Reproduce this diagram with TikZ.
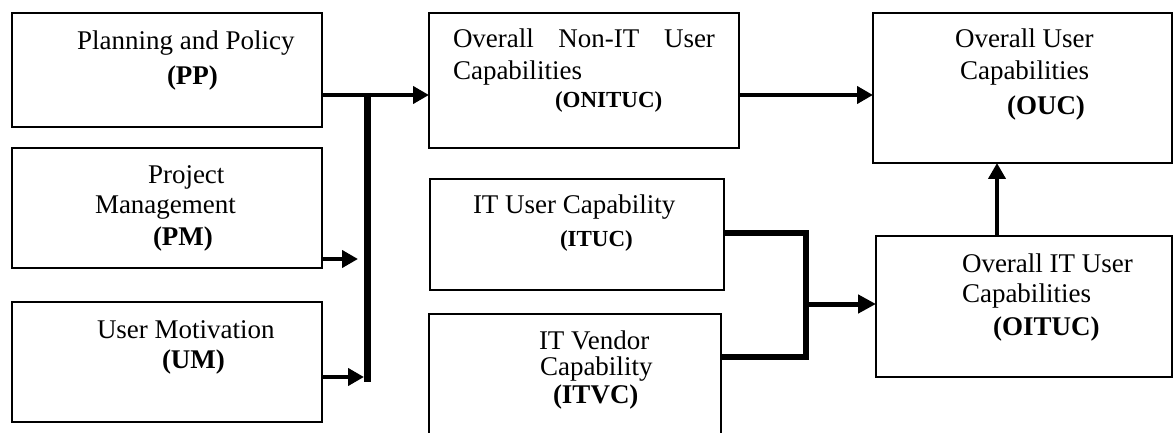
\documentclass[tikz,border=0pt]{standalone}
\usepackage{fontspec}
\setmainfont{Liberation Serif}
\usetikzlibrary{arrows.meta}
\begin{document}
\begin{tikzpicture}[x=1pt,y=-1pt,
  box/.style={draw=black,line width=2pt,inner sep=0pt,outer sep=0pt,rectangle},
  txt/.style={anchor=base west,inner sep=0pt,outer sep=0pt,font=\fontsize{27}{31}\selectfont},
  btxt/.style={txt,font=\fontsize{27}{31}\selectfont\bfseries},
  bstxt/.style={txt,font=\fontsize{23}{27}\selectfont\bfseries},
  conn/.style={line width=4pt,-{Triangle[length=16pt,width=17pt]}},
  thick bar/.style={line width=7pt},
  bracket/.style={line width=6pt,line join=miter}]
\useasboundingbox (0,0) rectangle (1173,433);
\clip (0,0) rectangle (1173,433);

% boxes
\node[box,minimum width=310pt,minimum height=114pt] (pp) at (167,70) {};
\node[box,minimum width=310pt,minimum height=120pt] (pm) at (167,208) {};
\node[box,minimum width=310pt,minimum height=120pt] (um) at (167,362) {};
\node[box,minimum width=310pt,minimum height=135pt] (onituc) at (584,80.5) {};
\node[box,minimum width=294pt,minimum height=111pt] (ituc) at (577,234.5) {};
\node[box,minimum width=292pt,minimum height=140pt] (itvc) at (575,384) {};
\node[box,minimum width=299pt,minimum height=150pt] (ouc) at (1022.5,88) {};
\node[box,minimum width=296pt,minimum height=141pt] (oituc) at (1024,306.5) {};

% texts
\node[txt]  (pp1) at (77,50) {Planning and Policy};
\node[btxt] (pp2) at (167,85) {(PP)};
\node[txt]  (pm1) at (148,183) {Project};
\node[txt]  (pm2) at (95,213) {Management};
\node[btxt] (pm3) at (153,245) {(PM)};
\node[txt]  (um1) at (97,338) {User Motivation};
\node[btxt] (um2) at (162,368) {(UM)};
\node[txt]  (on1) at (453,48) {\hbox to 262pt{Overall\hfill Non-IT\hfill User}};
\node[txt]  (on2) at (453,80) {Capabilities};
\node[bstxt] (on3) at (555,108) {(ONITUC)};
\node[txt]  (ou1) at (955,48) {Overall User};
\node[txt]  (ou2) at (960,80) {Capabilities};
\node[btxt] (ou3) at (1007,115) {(OUC)};
\node[txt]  (it1) at (473,213) {IT User Capability};
\node[bstxt] (it2) at (560,246) {(ITUC)};
\node[txt]  (iv1) at (539,349) {IT Vendor};
\node[txt]  (iv2) at (540,375) {Capability};
\node[btxt] (iv3) at (553,403) {(ITVC)};
\node[txt]  (oi1) at (962,272) {Overall IT User};
\node[txt]  (oi2) at (962,302) {Capabilities};
\node[btxt] (oi3) at (993,335) {(OITUC)};

% junction coordinates
\coordinate (j1) at (367,95);
\coordinate (jtop) at (367,93);
\coordinate (jbot) at (367,382);
\coordinate (pmtip) at (358,259);
\coordinate (umtip) at (364,377);
\coordinate (b1) at (806,233);
\coordinate (b2) at (806,357);
\coordinate (bm) at (806,304);
\coordinate (up) at (997,0);

% connectors
\draw[conn] (pp.east |- j1) -- (onituc.west |- j1);
\draw[thick bar] (jtop) -- (jbot);
\draw[conn] (pm.east |- pmtip) -- (pmtip);
\draw[conn] (um.east |- umtip) -- (umtip);
\draw[conn] (onituc.east |- j1) -- (ouc.west |- j1);
\draw[bracket] (ituc.east |- b1) -- (b1) -- (b2) -- (itvc.east |- b2);
\draw[line width=5pt,-{Triangle[length=18pt,width=18pt]}] (bm) -- (oituc.west |- bm);
\draw[conn] (oituc.north -| up) -- (ouc.south -| up);
\end{tikzpicture}
\end{document}
